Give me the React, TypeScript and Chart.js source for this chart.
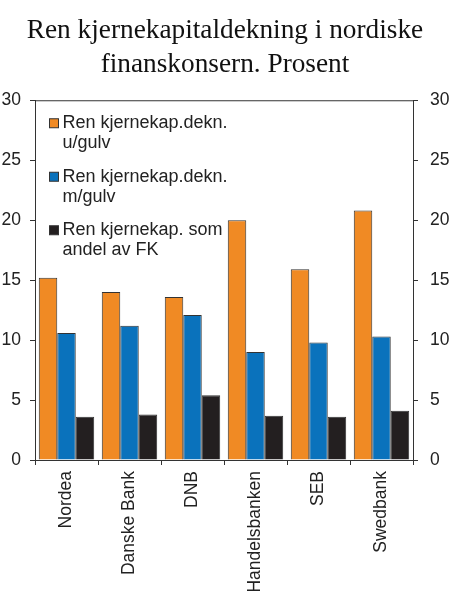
import { useEffect, useRef } from "react";
import { Chart, registerables, Plugin } from "chart.js";

Chart.register(...registerables);

const banks = ["Nordea", "Danske Bank", "DNB", "Handelsbanken", "SEB", "Swedbank"];
const utenGulv = [15.2, 14.0, 13.6, 20.0, 15.9, 20.8];
const medGulv = [10.6, 11.2, 12.1, 9.0, 9.8, 10.3];
const andelFK = [3.6, 3.8, 5.4, 3.7, 3.6, 4.1];

const legendLines = [
  ["Ren kjernekap.dekn.", "u/gulv"],
  ["Ren kjernekap.dekn.", "m/gulv"],
  ["Ren kjernekap. som", "andel av FK"],
];
const colors = ["#F08A24", "#0A72BC", "#231F20"];
const titleLines = ["Ren kjernekapitaldekning i nordiske", "finanskonsern. Prosent"];

const sans = "'Liberation Sans', Arial, sans-serif";
const serif = "'Liberation Serif', 'Times New Roman', serif";
const ink = "#222";

// top frame line + legend with two-line labels inside the plot
const extras: Plugin<"bar"> = {
  id: "extras",
  afterDraw(chart) {
    const { ctx, chartArea } = chart;
    ctx.save();
    ctx.strokeStyle = "#333";
    ctx.lineWidth = 1;
    ctx.beginPath();
    ctx.moveTo(chartArea.left, chartArea.top + 0.5);
    ctx.lineTo(chartArea.right, chartArea.top + 0.5);
    ctx.stroke();

    ctx.font = `18px ${sans}`;
    ctx.textBaseline = "middle";
    ctx.textAlign = "left";
    chart.data.datasets.forEach((ds, i) => {
      const y0 = chartArea.top + 23 + i * 53.5;
      ctx.fillStyle = ds.backgroundColor as string;
      ctx.fillRect(chartArea.left + 14.5, y0 - 4.5, 9, 9);
      ctx.strokeStyle = "#333";
      ctx.strokeRect(chartArea.left + 14.5, y0 - 4.5, 9, 9);
      ctx.fillStyle = ink;
      legendLines[i].forEach((line, j) => {
        ctx.fillText(line, chartArea.left + 27.5, y0 + j * 20);
      });
    });
    ctx.restore();
  },
};

export default function App() {
  const canvasRef = useRef<HTMLCanvasElement | null>(null);

  useEffect(() => {
    const ctx = canvasRef.current?.getContext("2d");
    if (!ctx) return;

    const series = [utenGulv, medGulv, andelFK];
    const chart = new Chart(ctx, {
      type: "bar",
      data: {
        labels: banks,
        datasets: series.map((values, i) => ({
          label: legendLines[i].join(" "),
          data: values,
          backgroundColor: colors[i],
          borderColor: "#333",
          borderWidth: 1,
          categoryPercentage: 0.88,
          barPercentage: 1,
        })),
      },
      options: {
        animation: false,
        responsive: true,
        maintainAspectRatio: false,
        layout: { padding: 0 },
        plugins: {
          legend: { display: false },
          tooltip: { enabled: false },
          title: {
            display: true,
            text: titleLines,
            color: "#111",
            font: { family: serif, size: 27.3, weight: "normal", lineHeight: 1.25 },
            padding: { top: 14, bottom: 18 },
          },
        },
        scales: {
          x: {
            grid: { display: true, drawOnChartArea: false, drawTicks: true, tickLength: 5, color: "#333" },
            border: { display: true, color: "#333" },
            ticks: {
              color: ink,
              font: { family: sans, size: 17.5 },
              minRotation: 90,
              maxRotation: 90,
              autoSkip: false,
              padding: 6,
            },
            afterFit: (scale) => {
              scale.height = 154;
            },
          },
          y: {
            position: "left",
            min: 0,
            max: 30,
            grid: { display: true, drawOnChartArea: false, drawTicks: true, tickLength: 5, color: "#333" },
            border: { display: true, color: "#333" },
            ticks: { stepSize: 5, color: ink, font: { family: sans, size: 17.5 }, padding: 9 },
            afterFit: (scale) => {
              scale.width = 35;
            },
          },
          y2: {
            position: "right",
            min: 0,
            max: 30,
            grid: { display: true, drawOnChartArea: false, drawTicks: true, tickLength: 5, color: "#333" },
            border: { display: true, color: "#333" },
            ticks: { stepSize: 5, color: ink, font: { family: sans, size: 17.5 }, padding: 12 },
            afterFit: (scale) => {
              scale.width = 37;
            },
          },
        },
      },
      plugins: [extras],
    });

    return () => {
      chart.destroy();
    };
  }, []);

  return (
    <div style={{ position: "fixed", left: 0, top: 0, width: 450, height: 614, background: "#fff" }}>
      <canvas ref={canvasRef}></canvas>
    </div>
  );
}
